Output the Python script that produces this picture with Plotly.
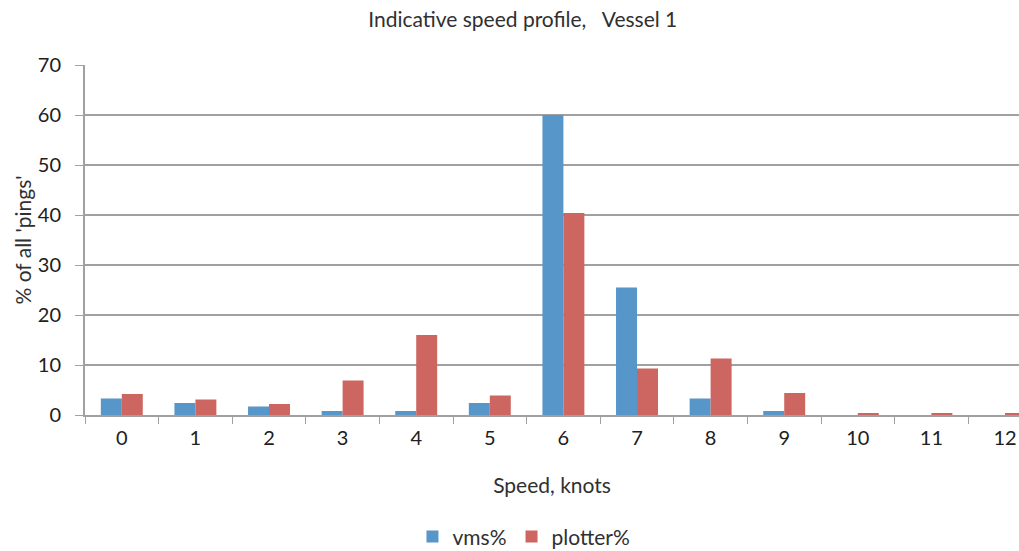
import plotly.graph_objects as go

speeds = [str(i) for i in range(13)]
vms = [3.3, 2.4, 1.7, 0.8, 0.8, 2.4, 60.0, 25.5, 3.3, 0.8, 0.0, 0.0, 0.0]
plotter = [4.2, 3.1, 2.2, 6.9, 16.0, 3.9, 40.4, 9.3, 11.3, 4.4, 0.4, 0.4, 0.4]

FONT = "Lato, Open Sans, sans-serif"

fig = go.Figure()
fig.add_trace(go.Bar(x=speeds, y=vms, name="vms%", marker=dict(color="#5796c8", line=dict(width=0))))
fig.add_trace(go.Bar(x=speeds, y=plotter, name="plotter%", marker=dict(color="#cd6660", line=dict(width=0))))

fig.update_layout(
    width=1019, height=551,
    margin=dict(l=85, r=0, t=65, b=136, autoexpand=False),
    paper_bgcolor="white", plot_bgcolor="white",
    barmode="group", bargap=0.43, bargroupgap=0,
    font=dict(family=FONT, color="#404040"),
    title=dict(text="Indicative speed profile,   Vessel 1", x=0.513, xanchor="center",
               y=0.964, yref="container", yanchor="middle", font=dict(size=21, color="#303030")),
    showlegend=True,
    legend=dict(orientation="h", x=0.47, xanchor="center", y=-0.348, yanchor="middle",
                font=dict(size=21, color="#303030")),
    xaxis=dict(
        type="category", range=[-0.5, 12.19],
        tickson="boundaries", ticks="outside", ticklen=7, tickcolor="#a0a0a0",
        showline=True, linecolor="#a0a0a0", linewidth=2, showgrid=False,
        tickfont=dict(size=20, color="#202020"), ticklabeloverflow="allow",
        ticklabelstandoff=4,
        title=dict(text="Speed, knots", font=dict(size=21, color="#303030"), standoff=30),
    ),
    yaxis=dict(
        range=[0, 70], dtick=10, tick0=0,
        ticks="outside", ticklen=8, tickcolor="#a0a0a0",
        showline=True, linecolor="#a0a0a0", linewidth=2,
        showgrid=True, gridcolor="#a0a0a0", gridwidth=1.5, zeroline=False,
        tickfont=dict(size=20, color="#202020"), ticklabelstandoff=10,
        title=dict(text="% of all 'pings'", font=dict(size=21, color="#303030"), standoff=0),
    ),
)

fig.write_html(
    "out.html",
    config={"displayModeBar": False},
    post_script="document.body.style.margin='0';document.body.style.overflow='hidden';",
)
